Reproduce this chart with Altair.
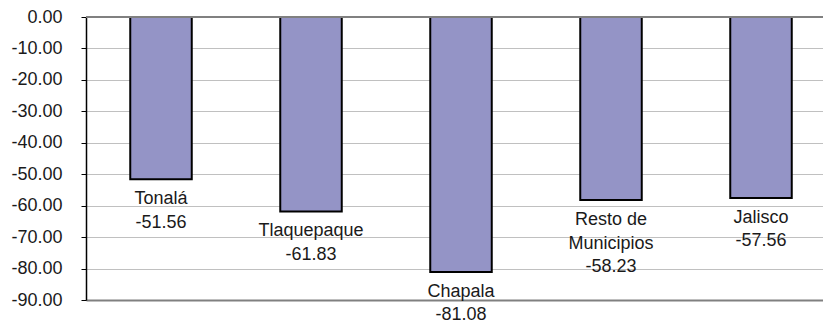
import altair as alt
import pandas as pd

categories = ["Tonalá", "Tlaquepaque", "Chapala", "Resto de Municipios", "Jalisco"]
label_names = ["Tonalá", "Tlaquepaque", "Chapala", "Resto de\nMunicipios", "Jalisco"]
values = [-51.56, -61.83, -81.08, -58.23, -57.56]
y_ticks = [0, -10, -20, -30, -40, -50, -60, -70, -80, -90]

df = pd.DataFrame({
    "cat": categories,
    "val": values,
    "label": [f"{n}\n{v:.2f}" for n, v in zip(label_names, values)],
})

FONT = "Liberation Sans"

x_scale = alt.Scale(paddingInner=0.59, paddingOuter=0.295, range=[0, 750])
x_axis = alt.Axis(labels=False, ticks=False, title=None, domainColor="#808080",
                  domainWidth=2, orient="bottom")
y_scale = alt.Scale(domain=[-90, 0], nice=False)
y_axis = alt.Axis(values=y_ticks, format=".2f", title=None, grid=True,
                  labelExpr="replace(datum.label, '\u2212', '-')",
                  gridColor="#C0C0C0", gridWidth=1, domainColor="#000000",
                  domainWidth=1.5, tickColor="#000000", tickSize=5,
                  labelFont=FONT, labelFontSize=18, labelColor="#1a1a1a",
                  labelPadding=19, labelOverlap=False, labelBound=False)

x = alt.X("cat:N", sort=categories, scale=x_scale, axis=x_axis)
y = alt.Y("val:Q", scale=y_scale, axis=y_axis)

bars = alt.Chart(df).mark_bar(color="#9494C6", stroke="#000000", strokeWidth=2).encode(
    x=x, y=y, y2=alt.datum(0))

labels = alt.Chart(df).mark_text(font=FONT, fontSize=18, baseline="top", dy=11,
                                 lineBreak="\n", lineHeight=23.5, color="#1a1a1a").encode(
    x=x, y=y, text="label:N")

zero = alt.Chart(df).mark_rule(color="#808080", strokeWidth=2).encode(
    y=alt.YDatum(0, type="quantitative", scale=y_scale, axis=y_axis))

chart = alt.layer(bars, labels, zero).properties(
    width=737, height=283,
    autosize=alt.AutoSizeParams(type="none"),
    padding={"left": 86, "top": 17, "right": 0, "bottom": 23},
).configure_view(stroke=None).configure(background="#FFFFFF")

chart.save("out.html", embed_options={"renderer": "svg", "actions": False})
